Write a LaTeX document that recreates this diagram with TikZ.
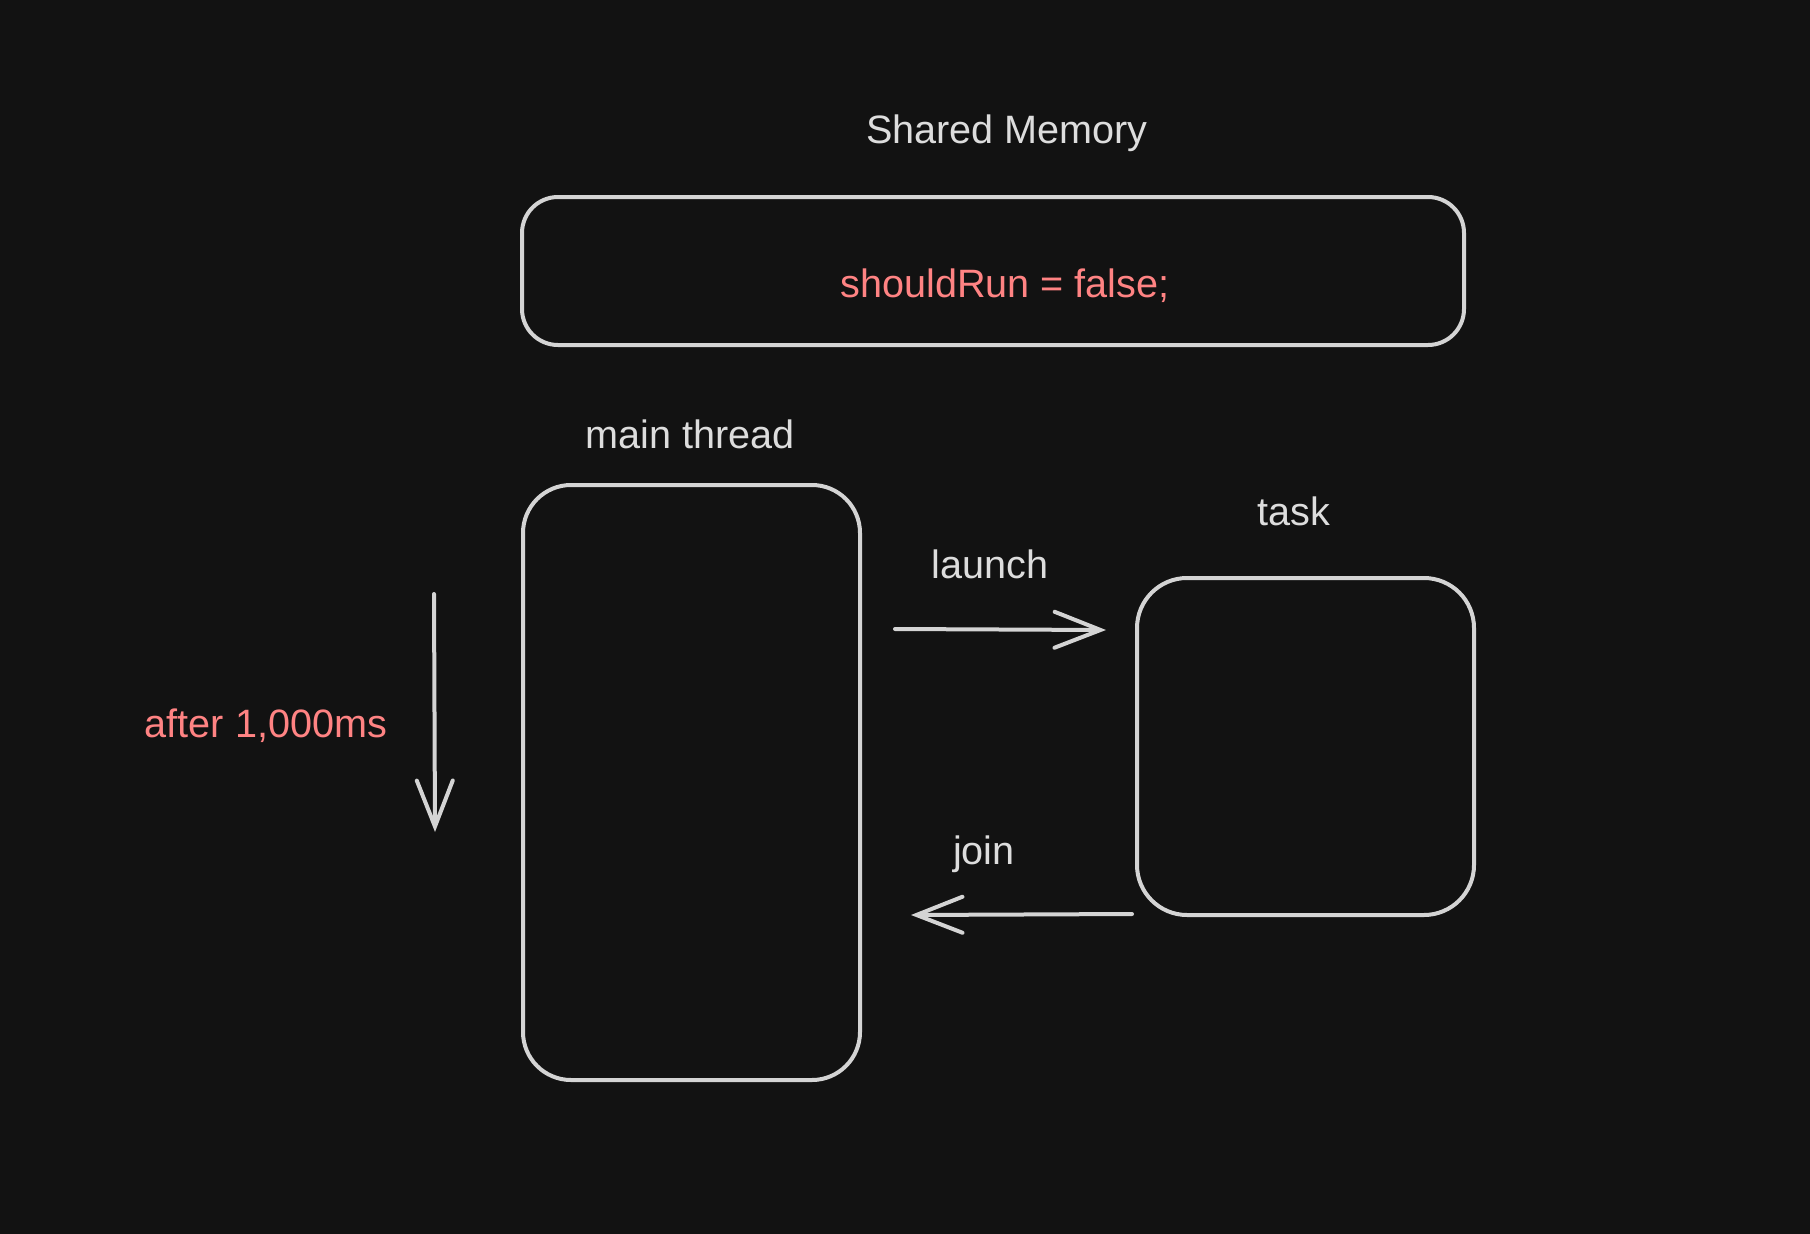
\documentclass[tikz,border=0pt]{standalone}
\usepackage{fontspec}
\setmainfont{Liberation Sans}
\usetikzlibrary{arrows.meta}
\definecolor{bg}{HTML}{121212}
\definecolor{stroke}{HTML}{D4D4D4}
\definecolor{txt}{HTML}{DDDDDD}
\definecolor{redtxt}{HTML}{FF8383}
\tikzset{
  box/.style={draw=stroke, line width=4pt, inner sep=0pt},
  lbl/.style={text=txt, font=\fontsize{39.6}{47}\selectfont, anchor=base, inner sep=0pt},
  redlbl/.style={lbl, text=redtxt},
  conn/.style={draw=stroke, line width=4pt, line cap=round,
    -{Straight Barb[length=46pt, width=36pt, line width=4pt, line cap=round]}},
}
\begin{document}
\begin{tikzpicture}[x=1pt, y=-1pt]
\fill[bg] (0,0) rectangle (1810,1234);
\useasboundingbox (0,0) rectangle (1810,1234);

\node[lbl] (smlabel) at (1007,143) {Shared Memory};
\node[box, rounded corners=36pt, minimum width=942pt, minimum height=148pt] (shared) at (993,271) {};
\node[redlbl] (code) at (1005,297) {shouldRun = false;};

\node[lbl] (mtlabel) at (690,448) {main thread};
\node[box, rounded corners=48pt, minimum width=337pt, minimum height=595pt] (main) at (691.5,782.5) {};

\node[lbl] (tasklabel) at (1294,525) {task};
\node[box, rounded corners=50pt, minimum width=337pt, minimum height=337pt] (task) at (1305.5,746.5) {};

\node[lbl] (launchlabel) at (990,578) {launch};
\node[lbl] (joinlabel) at (984,864) {join};
\node[redlbl] (afterlabel) at (266,737) {after 1,000ms};

\coordinate (launchS) at (895,629);
\coordinate (launchE) at (1106,630);
\coordinate (joinS) at (1132,914);
\coordinate (joinE) at (911,915);
\coordinate (timeS) at (434,594);
\coordinate (timeE) at (435,832);

\draw[conn] (launchS) -- (launchE);
\draw[conn] (joinS) -- (joinE);
\draw[conn] (timeS) -- (timeE);
\end{tikzpicture}
\end{document}
